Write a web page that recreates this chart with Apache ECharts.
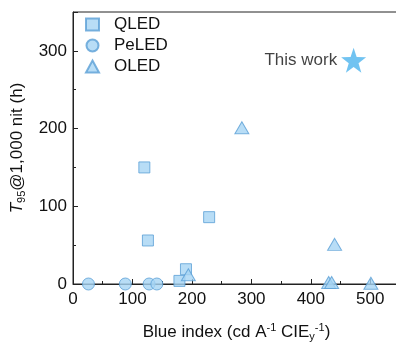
<!DOCTYPE html>
<html><head><meta charset="utf-8">
<script src="https://cdn.jsdelivr.net/npm/echarts@6/dist/echarts.min.js"></script>
<style>html,body{margin:0;padding:0;background:#fff}#c{width:396px;height:343px}</style>
</head><body><div id="c"></div>
<script>
const qledX = [120, 126, 179, 190, 229];
const qledY = [150, 56, 4, 19, 86];
const peledX = [26, 88, 128, 141];
const peledY = [0, 0, 0, 0];
const oledX = [194, 284, 430, 435, 440, 501];
const oledY = [12, 201, 2, 2, 51, 1];
const thisWorkX = [472];
const thisWorkY = [288];
const xTicks = [0, 100, 200, 300, 400, 500];
const yTicks = [0, 100, 200, 300];

const zip = (a, b) => a.map((v, i) => [v, b[i]]);
const fill = '#a6d5f4';
const edge = '#5a9fd6';
const font = 'Arial, "Liberation Sans", sans-serif';
const fs = 17;

const chart = echarts.init(document.getElementById('c'));
chart.setOption({
  animation: false,
  grid: { left: 73, right: -4, top: 12, bottom: 59, show: true, borderColor: '#222', borderWidth: 1,
    containLabel: false, outerBoundsMode: 'none' },
  legend: {
    orient: 'vertical', left: 80, top: 11, itemGap: 4, itemWidth: 13, itemHeight: 12,
    textStyle: { fontFamily: font, fontSize: fs, color: '#111', padding: [0, 0, 0, 10], lineHeight: 17 },
    data: ['QLED', 'PeLED', 'OLED']
  },
  xAxis: {
    type: 'value', min: 0, max: 550, interval: 100,
    axisLine: { lineStyle: { color: '#222', width: 1 } },
    axisTick: { inside: true, length: 5, lineStyle: { color: '#222' } },
    minorTick: { show: true, splitNumber: 2, length: 3, lineStyle: { color: '#222' } },
    splitLine: { show: false },
    axisLabel: { fontFamily: font, fontSize: fs, color: '#111', margin: 7,
      formatter: v => xTicks.includes(v) ? String(v) : '' },
    name: '{n|Blue index (cd A}{sup|-1}{n| CIE}{sub|y}{sup|-1}{n|)}',
    nameLocation: 'middle', nameGap: 38,
    nameTextStyle: { rich: {
      n: { fontFamily: font, fontSize: fs, color: '#111' },
      sup: { fontFamily: font, fontSize: 11, color: '#111', verticalAlign: 'top', padding: [0, 0, 8, 0] },
      sub: { fontFamily: font, fontSize: 11, color: '#111', verticalAlign: 'bottom', padding: [9, 0, 0, 0] }
    } }
  },
  yAxis: {
    type: 'value', min: 0, max: 350, interval: 100,
    axisLine: { show: true, lineStyle: { color: '#222', width: 1 } },
    axisTick: { show: true, inside: true, length: 5, lineStyle: { color: '#222' } },
    minorTick: { show: true, splitNumber: 2, length: 3, lineStyle: { color: '#222' } },
    splitLine: { show: false },
    axisLabel: { fontFamily: font, fontSize: fs, color: '#111', margin: 6,
      formatter: v => yTicks.includes(v) ? String(v) : '' },
    name: '{it|T}{sub|95}{n|@1,000 nit (h)}',
    nameLocation: 'middle', nameGap: 40, nameRotate: 90,
    nameTextStyle: { rich: {
      n: { fontFamily: font, fontSize: fs, color: '#111' },
      it: { fontFamily: font, fontSize: fs, color: '#111', fontStyle: 'italic' },
      sub: { fontFamily: font, fontSize: 11, color: '#111', verticalAlign: 'bottom', padding: [9, 0, 0, 0] }
    } }
  },
  series: [
    { name: 'QLED', type: 'scatter', symbol: 'rect', symbolSize: 11, data: zip(qledX, qledY),
      itemStyle: { color: fill, borderColor: edge, borderWidth: 1 } },
    { name: 'PeLED', type: 'scatter', symbol: 'circle', symbolSize: 12, data: zip(peledX, peledY),
      itemStyle: { color: fill, borderColor: edge, borderWidth: 1 } },
    { name: 'OLED', type: 'scatter', symbol: 'triangle', symbolSize: [14, 12], data: zip(oledX, oledY),
      itemStyle: { color: fill, borderColor: edge, borderWidth: 1 } },
    { name: 'This work', type: 'scatter', symbol: 'path://M50,0 L61.8,35.1 L98.9,35.5 L69.1,57.6 L80.2,93 L50,71.5 L19.8,93 L30.9,57.6 L1.1,35.5 L38.2,35.1 Z',
      symbolSize: 25, data: zip(thisWorkX, thisWorkY),
      itemStyle: { color: '#4db4ee' },
      label: { show: true, position: 'left', distance: 4, formatter: 'This work', fontFamily: font, fontSize: fs, color: '#111' } }
  ]
});
</script></body></html>
